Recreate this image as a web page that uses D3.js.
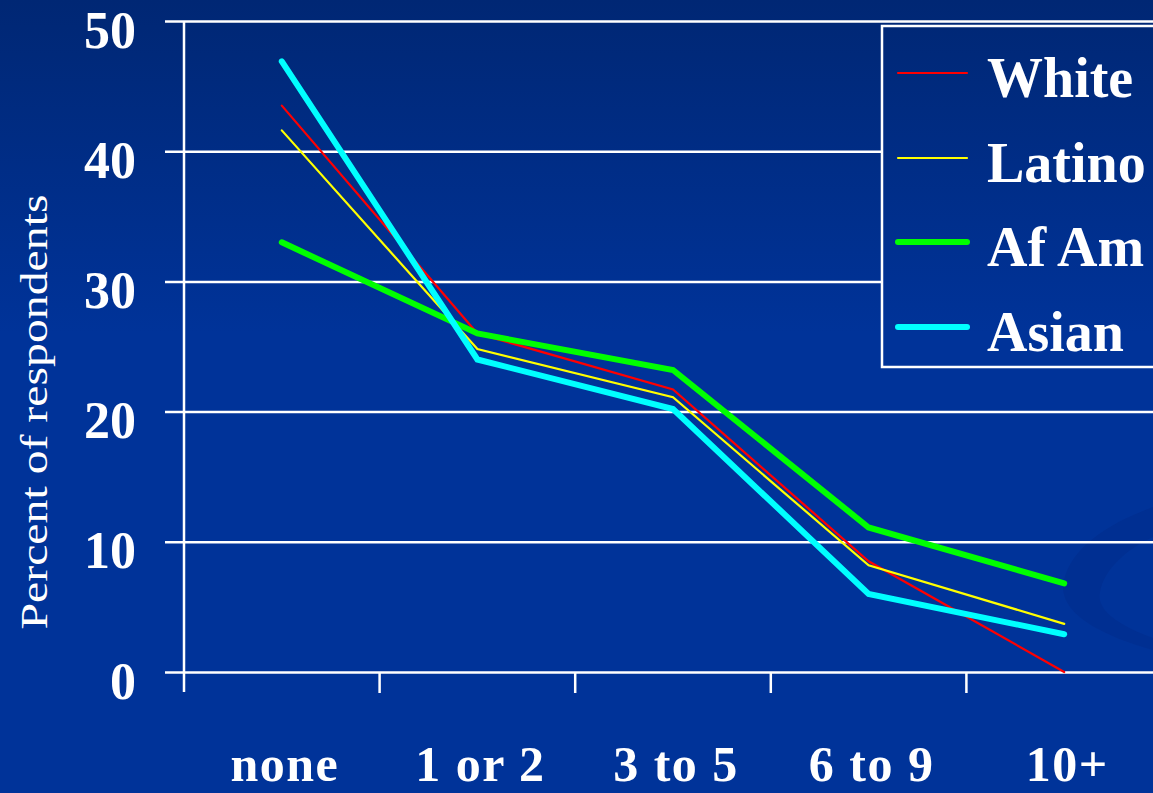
<!DOCTYPE html>
<html>
<head>
<meta charset="utf-8">
<script src="https://cdn.jsdelivr.net/npm/d3@7"></script>
<style>
  html, body { margin: 0; padding: 0; background: #003399; }
  svg { display: block; }
</style>
</head>
<body>
<svg id="chart" width="1153" height="793"></svg>
<script>
// Number of events reported, by group (percent of respondents)
const categories = ["none", "1 or 2", "3 to 5", "6 to 9", "10+"];
const yTicks = [0, 10, 20, 30, 40, 50];

const white  = [43.5, 26.0, 21.7, 8.5, 0.0];
const latino = [41.6, 24.8, 21.1, 8.2, 3.7];
const afAm   = [33.0, 26.0, 23.2, 11.1, 6.8];
const asian  = [46.9, 24.0, 20.2, 6.0, 2.9];

const seriesNames = ["White", "Latino", "Af Am", "Asian"];
const seriesValues = [white, latino, afAm, asian];
const seriesColors = ["#ff0000", "#ffff00", "#00ff00", "#00ffff"];
const seriesWidths = [2.2, 2.2, 6, 6];

const W = 1153, H = 793;
const svg = d3.select("#chart");
const defs = svg.append("defs");

const bg = defs.append("linearGradient")
  .attr("id", "bg").attr("gradientUnits", "userSpaceOnUse")
  .attr("x1", 0).attr("y1", 0).attr("x2", 0).attr("y2", H);
bg.append("stop").attr("offset", 0).attr("stop-color", "#002774");
bg.append("stop").attr("offset", 0.42).attr("stop-color", "#003399");
bg.append("stop").attr("offset", 1).attr("stop-color", "#003399");

svg.append("rect").attr("width", W).attr("height", H).attr("fill", "url(#bg)");

// faint decorative crescent at the right edge
svg.append("path")
  .attr("d", "M1153,507 C1105,525 1072,548 1064,580 C1056,612 1100,635 1153,650 L1153,638 C1118,625 1096,610 1100,592 C1104,570 1125,550 1153,537 Z")
  .attr("fill", "#002e8e").attr("opacity", 0.7);

const x = d3.scaleBand().domain(categories).range([184, 1162]).padding(0);
const y = d3.scaleLinear().domain([0, 50]).range([672, 21]);

const serif = "'Liberation Serif', 'DejaVu Serif', serif";

// horizontal gridlines with short ticks left of the axis
const yAxis = d3.axisLeft(y).tickValues(yTicks).tickSize(-(W - 165)).tickFormat(d => d);
const gy = svg.append("g").attr("transform", "translate(165,0)").call(yAxis);
gy.select(".domain").remove();
gy.selectAll(".tick line").attr("stroke", "#ffffff").attr("stroke-width", 2.5);
gy.selectAll(".tick text")
  .attr("x", -29).attr("dy", "0.5em")
  .attr("fill", "#ffffff")
  .style("font-family", serif).style("font-weight", "bold").style("font-size", "52px");

// vertical axis line
svg.append("line").attr("x1", 184).attr("x2", 184).attr("y1", 21).attr("y2", 692)
  .attr("stroke", "#ffffff").attr("stroke-width", 2.5);

// category ticks at band boundaries
const boundaries = categories.slice(1).map(c => x(c));
svg.selectAll("line.xtick").data(boundaries).join("line")
  .attr("class", "xtick")
  .attr("x1", d => d).attr("x2", d => d).attr("y1", 672).attr("y2", 693)
  .attr("stroke", "#ffffff").attr("stroke-width", 2.5);

// category labels
svg.selectAll("text.xlab").data(categories).join("text")
  .attr("class", "xlab")
  .attr("x", d => x(d) + x.bandwidth() / 2 + 3)
  .attr("y", 781)
  .attr("text-anchor", "middle")
  .attr("fill", "#ffffff")
  .style("font-family", serif).style("font-weight", "bold").style("font-size", "50px")
  .style("letter-spacing", "1.5px")
  .text(d => d);

// y axis title
svg.append("text")
  .attr("transform", "translate(47,412) rotate(-90)")
  .attr("text-anchor", "middle")
  .attr("fill", "#ffffff")
  .attr("textLength", 435).attr("lengthAdjust", "spacingAndGlyphs")
  .style("font-family", serif).style("font-size", "38px")
  .text("Percent of respondents");

// series lines
const line = d3.line()
  .x((d, i) => x(categories[i]) + x.bandwidth() / 2)
  .y(d => y(d));

seriesValues.forEach((vals, k) => {
  svg.append("path")
    .datum(vals)
    .attr("d", line)
    .attr("fill", "none")
    .attr("stroke", seriesColors[k])
    .attr("stroke-width", seriesWidths[k])
    .attr("stroke-linecap", "round")
    .attr("stroke-linejoin", "miter");
});

// legend
const legend = svg.append("g");
legend.append("rect")
  .attr("x", 882).attr("y", 26).attr("width", 300).attr("height", 341)
  .attr("fill", "url(#bg)").attr("stroke", "#ffffff").attr("stroke-width", 2.5);

const legendRows = [73, 158, 242, 327];
seriesNames.forEach((name, k) => {
  legend.append("line")
    .attr("x1", 898).attr("x2", 967)
    .attr("y1", legendRows[k]).attr("y2", legendRows[k])
    .attr("stroke", seriesColors[k]).attr("stroke-width", seriesWidths[k])
    .attr("stroke-linecap", "round");
  legend.append("text")
    .attr("x", 987).attr("y", legendRows[k] + 24)
    .attr("fill", "#ffffff")
    .style("font-family", serif).style("font-weight", "bold").style("font-size", "56px")
    .text(name);
});
</script>
</body>
</html>
